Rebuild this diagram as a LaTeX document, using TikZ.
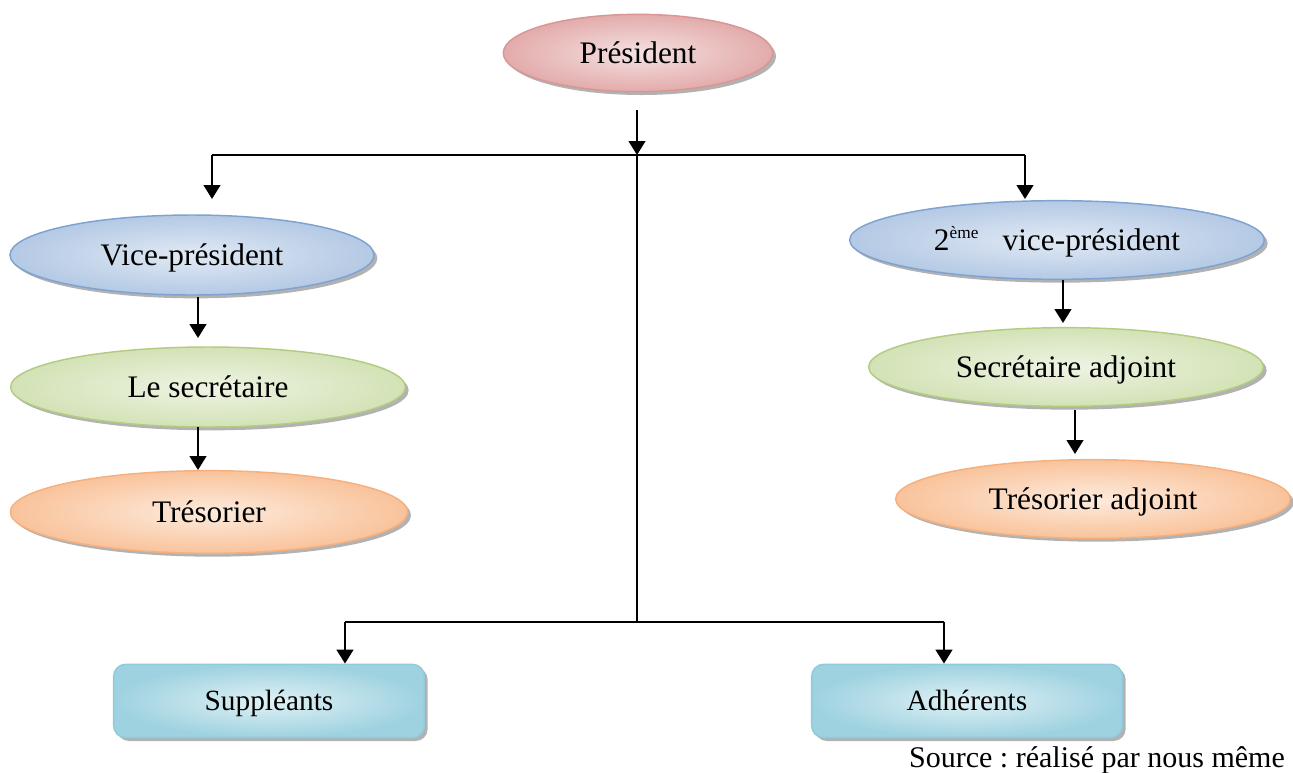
\documentclass[tikz,border=0pt]{standalone}
\usepackage{fontspec}
\setmainfont{Liberation Serif}
\frenchspacing
\usetikzlibrary{shapes.geometric,shadows,arrows.meta}
\definecolor{pinkB}{HTML}{D99694}\definecolor{pinkI}{HTML}{F5E1E1}\definecolor{pinkO}{HTML}{E3ABAB}
\definecolor{blueB}{HTML}{7EA3D0}\definecolor{blueI}{HTML}{E1EAF5}\definecolor{blueO}{HTML}{B4C9E4}
\definecolor{greenB}{HTML}{B3CC82}\definecolor{greenI}{HTML}{EEF4E3}\definecolor{greenO}{HTML}{D3E2B6}
\definecolor{orB}{HTML}{F6B07E}\definecolor{orI}{HTML}{FDEBDD}\definecolor{orO}{HTML}{F9C39B}
\definecolor{cyB}{HTML}{8FCBDB}\definecolor{cyI}{HTML}{E0F1F5}\definecolor{cyO}{HTML}{9ED2E0}
\tikzset{
  shad/.style={drop shadow={shadow xshift=2.5pt,shadow yshift=-2.5pt,fill=black!55,opacity=.55}},
  oval/.style={ellipse,draw=#1B,line width=1.1pt,inner color=#1I,outer color=#1O,shad,inner sep=0pt,
     font=\fontsize{23.5}{28}\selectfont,text height=20.5pt,text depth=5pt},
  rbox/.style={rectangle,rounded corners=9pt,draw=cyB,line width=1.1pt,inner color=cyI,outer color=cyO,shad,
     minimum width=233pt,minimum height=55pt,font=\fontsize{22}{26}\selectfont,text height=19.5pt,text depth=5pt},
  arr/.style={line width=1.8pt,-{Triangle[width=12.5pt,length=10.5pt]}},
  ln/.style={line width=1.8pt}
}
\begin{document}
\begin{tikzpicture}[x=0.75pt,y=-0.75pt]
\useasboundingbox (0,0) rectangle (1293,772);
% nodes
\node[oval=pink,minimum width=202pt,minimum height=58pt] (pres) at (638,53) {Président};
\node[oval=blue,minimum width=273pt,minimum height=60pt] (vice) at (192,255) {Vice-président};
\node[oval=green,minimum width=296pt,minimum height=60pt] (secr) at (208,387) {Le secrétaire};
\node[oval=or,minimum width=298pt,minimum height=62pt] (tres) at (209,512) {Trésorier};
\node[oval=blue,minimum width=311pt,minimum height=59pt] (vice2) at (1057,240) {2\textsuperscript{\fontsize{13}{14}\selectfont ème}\hspace{0.75em}vice-président};
\node[oval=green,minimum width=296pt,minimum height=59pt] (secra) at (1066,367) {Secrétaire adjoint};
\node[oval=or,minimum width=296pt,minimum height=59pt] (tresa) at (1093,499) {Trésorier adjoint};
\node[rbox] (supp) at (269,701) {Suppléants};
\node[rbox] (adh) at (967,701) {Adhérents};
\node[font=\fontsize{22.5}{26}\selectfont,inner sep=0pt] (src) at (1097,760) {Source : réalisé par nous même};
% coordinates
\coordinate (p0) at (637,110);
\coordinate (j) at (637,155);
\coordinate (jl) at (212,155);
\coordinate (jr) at (1025,155);
\coordinate (tl) at (212,199);
\coordinate (tr) at (1025,199);
\coordinate (jb) at (637,622);
\coordinate (bl) at (345,622);
\coordinate (br) at (944,622);
\coordinate (a1s) at (198,297); \coordinate (a1e) at (198,338);
\coordinate (a2s) at (198,427); \coordinate (a2e) at (198,470);
\coordinate (b1s) at (1063,280); \coordinate (b1e) at (1063,323);
\coordinate (b2s) at (1075,410); \coordinate (b2e) at (1075,454);
% connectors
\draw[arr] (p0) -- (j);
\draw[ln] (jl) -- (jr);
\draw[arr] (jl) -- (tl);
\draw[arr] (jr) -- (tr);
\draw[ln] (j) -- (jb);
\draw[ln] (bl) -- (br);
\draw[arr] (bl) -- (bl |- supp.north);
\draw[arr] (br) -- (br |- adh.north);
\draw[arr] (a1s) -- (a1e);
\draw[arr] (a2s) -- (a2e);
\draw[arr] (b1s) -- (b1e);
\draw[arr] (b2s) -- (b2e);
\end{tikzpicture}
\end{document}
